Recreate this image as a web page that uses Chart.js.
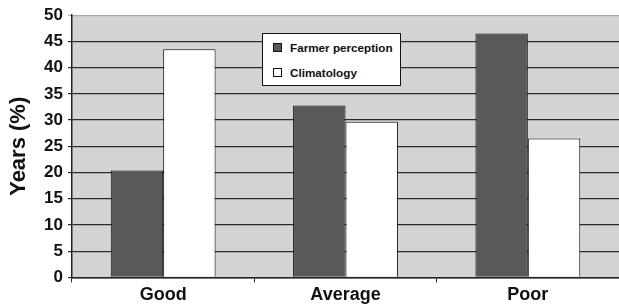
<!DOCTYPE html>
<html>
<head>
<meta charset="utf-8">
<script src="https://cdn.jsdelivr.net/npm/chart.js@4/dist/chart.umd.min.js"></script>
<style>
  html, body { margin: 0; padding: 0; background: #fff; overflow: hidden; }
  #wrap { position: relative; width: 619px; height: 308px; overflow: hidden; }
  #legend { position: absolute; left: 262px; top: 33px; width: 137px; height: 51px;
    border: 1px solid #111; background: #fff; font: bold 11.7px "Liberation Sans", Arial, sans-serif; color: #111; }
  .item { position: absolute; left: 10px; display: flex; align-items: center; }
  .sw { width: 7px; height: 7px; border: 1px solid #111; margin-right: 8px; }
</style>
</head>
<body>
<div id="wrap">
  <canvas id="c" width="619" height="308"></canvas>
  <div id="legend"></div>
</div>
<script>
const categories = ["Good", "Average", "Poor"];
const farmerPerception = [20.4, 32.8, 46.5];
const climatology = [43.5, 29.7, 26.5];
const seriesLabels = ["Farmer perception", "Climatology"];
const yTicks = [0, 5, 10, 15, 20, 25, 30, 35, 40, 45, 50];

const FONT = '"Liberation Sans", Arial, sans-serif';

const bgPlugin = {
  id: 'plotBg',
  beforeDraw(chart) {
    const {ctx, chartArea: a} = chart;
    ctx.save();
    ctx.fillStyle = '#d4d4d4';
    ctx.fillRect(a.left, a.top, a.right - a.left, a.bottom - a.top);
    ctx.restore();
  }
};

const datasets = [
  { label: seriesLabels[0], data: farmerPerception, backgroundColor: '#595959', borderColor: '#111', borderWidth: 1 },
  { label: seriesLabels[1], data: climatology, backgroundColor: '#ffffff', borderColor: '#111', borderWidth: 1 }
];

const chart = new Chart(document.getElementById('c'), {
  type: 'bar',
  data: { labels: categories, datasets },
  plugins: [bgPlugin],
  options: {
    responsive: false,
    animation: false,
    layout: { padding: { top: 15, bottom: 0, left: 0, right: -2 } },
    plugins: { legend: { display: false }, tooltip: { enabled: false } },
    datasets: { bar: { categoryPercentage: 0.575, barPercentage: 1.0, borderSkipped: 'start' } },
    scales: {
      x: {
        grid: { offset: true, drawOnChartArea: false, drawTicks: true, tickLength: 5, color: '#222' },
        border: { color: '#222', width: 1.5 },
        ticks: { color: '#111', padding: 2, font: { family: FONT, size: 18, weight: 'bold' } }
      },
      y: {
        min: 0, max: 50,
        afterBuildTicks(scale) { scale.ticks = yTicks.map(v => ({ value: v })); },
        afterFit(scale) { scale.width = 72; },
        grid: {
          color: ctx => (ctx.tick && ctx.tick.value === 50) ? '#a8a8a8' : '#2a2a2a',
          lineWidth: 1.2, tickLength: 4, drawTicks: true
        },
        border: { color: '#222', width: 1.5 },
        ticks: { color: '#111', padding: 5, font: { family: FONT, size: 17, weight: 'bold' } },
        title: { display: true, text: 'Years (%)', color: '#111', padding: { top: 6, bottom: 0 },
          font: { family: FONT, size: 22, weight: 'bold', lineHeight: 1.2 } }
      }
    }
  }
});

// Legend built from the datasets
const leg = document.getElementById('legend');
const tops = [7, 32];
chart.data.datasets.forEach((ds, i) => {
  const it = document.createElement('div');
  it.className = 'item';
  it.style.top = tops[i] + 'px';
  const sw = document.createElement('span');
  sw.className = 'sw';
  sw.style.background = ds.backgroundColor;
  const tx = document.createElement('span');
  tx.textContent = ds.label;
  it.appendChild(sw); it.appendChild(tx);
  leg.appendChild(it);
});
</script>
</body>
</html>
